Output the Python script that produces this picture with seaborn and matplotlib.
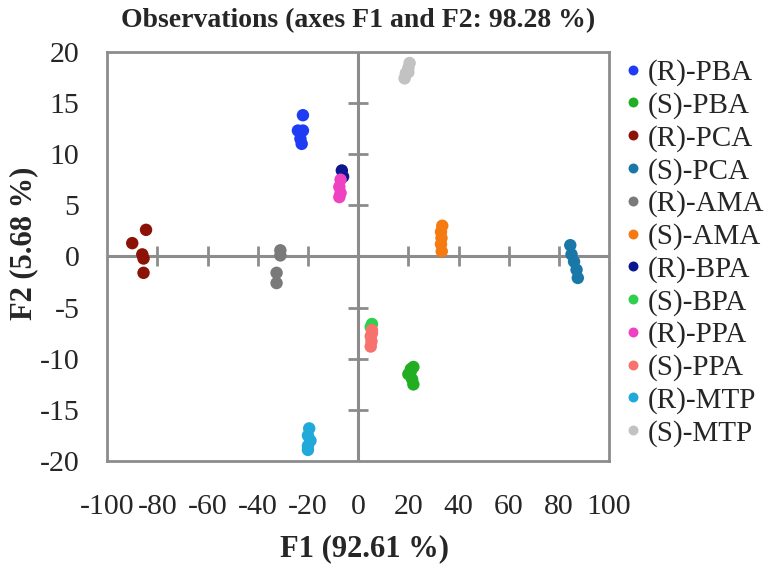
import pandas as pd
import matplotlib
matplotlib.use("Agg")
import matplotlib.pyplot as plt
import seaborn as sns

groups = ["(R)-PBA", "(S)-PBA", "(R)-PCA", "(S)-PCA", "(R)-AMA", "(S)-AMA",
          "(R)-BPA", "(S)-BPA", "(R)-PPA", "(S)-PPA", "(R)-MTP", "(S)-MTP"]
colors = ["#1f3cf5", "#22ae22", "#8c1208", "#1a78a8", "#7a7a7a", "#f57a12",
          "#0c168e", "#2fd04c", "#ef42c2", "#f7716d", "#20a9d9", "#c2c2c2"]

f1_values = [
    [-22.0, -24.0, -22.0, -23.0, -22.5],
    [21.0, 20.0, 21.5, 22.0, 21.0, 22.0],
    [-84.5, -90.0, -86.0, -85.5, -85.5],
    [84.5, 85.0, 86.0, 87.0, 87.5],
    [-31.0, -31.0, -32.5, -32.5],
    [33.5, 33.0, 33.2, 33.0, 33.3],
    [-6.5, -6.0],
    [5.5, 5.0],
    [-7.0, -7.5, -7.0, -7.5],
    [5.5, 5.0, 5.3, 5.0, 5.5],
    [-19.5, -20.0, -19.0, -20.0, -20.0],
    [20.5, 20.0, 19.0, 18.5, 20.0],
]
f2_values = [
    [13.8, 12.3, 12.3, 11.5, 11.0],
    [-11.0, -11.5, -12.0, -12.5, -11.2, -10.8],
    [2.6, 1.3, 0.2, -0.2, -1.6],
    [1.1, 0.2, -0.5, -1.3, -2.1],
    [0.6, 0.1, -1.6, -2.6],
    [3.0, 2.4, 1.8, 1.2, 0.5],
    [8.4, 7.8],
    [-6.6, -6.9],
    [7.5, 6.8, 6.2, 5.8],
    [-7.2, -7.8, -8.3, -8.8, -7.5],
    [-16.8, -17.5, -18.0, -18.5, -18.9],
    [18.9, 18.4, 17.9, 17.4, 18.0],
]

x_ticks = [-100, -80, -60, -40, -20, 0, 20, 40, 60, 80, 100]
y_ticks = [-20, -15, -10, -5, 0, 5, 10, 15, 20]

rows = []
for g, xs, ys in zip(groups, f1_values, f2_values):
    for x, y in zip(xs, ys):
        rows.append({"group": g, "F1": x, "F2": y})
df = pd.DataFrame(rows)

sns.set_style("white")
plt.rcParams["font.family"] = ["Liberation Serif", "DejaVu Serif"]
plt.rcParams["axes.unicode_minus"] = False

gray = "#8c8c8c"
fig = plt.figure(figsize=(7.82, 5.75), dpi=100)
ax = fig.add_axes([0.137, 0.198, 0.642, 0.712])

# axes through the origin with crossing tick marks
ax.axhline(0, color=gray, lw=2.2, zorder=1)
ax.axvline(0, color=gray, lw=2.2, zorder=1)
inner_x = [t for t in x_ticks if abs(t) not in (0, 100)]
inner_y = [t for t in y_ticks if abs(t) not in (0, 20)]
ax.plot(inner_x, [0] * len(inner_x), ls="", marker="|", ms=14, mew=2, color=gray, zorder=1)
ax.plot([0] * len(inner_y), inner_y, ls="", marker="_", ms=14, mew=2, color=gray, zorder=1)

sns.scatterplot(data=df, x="F1", y="F2", hue="group", hue_order=groups,
                palette=colors, s=80, linewidth=0, ax=ax, zorder=3)

ax.set_xlim(-100, 100)
ax.set_ylim(-20, 20)
ax.set_xticks(x_ticks)
ax.set_yticks(y_ticks)
ax.tick_params(axis="both", length=0, labelsize=21.5)
ax.tick_params(axis="x", pad=24)
ax.tick_params(axis="y", pad=20)
for s in ax.spines.values():
    s.set_color(gray)
    s.set_linewidth(2)

ax.set_title("Observations (axes F1 and F2: 98.28 %)", fontsize=20, fontweight="bold", pad=18)
ax.set_xlabel("F1 (92.61 %)", fontsize=22, fontweight="bold")
ax.set_ylabel("F2 (5.68 %)", fontsize=22, fontweight="bold")
ax.xaxis.set_label_coords(0.512, -0.178)
ax.yaxis.set_label_coords(-0.137, 0.533)

handles, labels = ax.get_legend_handles_labels()
ax.legend(handles, labels, loc="upper left", bbox_to_anchor=(0.995, 1.01),
          frameon=False, fontsize=21, labelspacing=0.2, handletextpad=0.0,
          handlelength=1.0, borderaxespad=0, markerscale=0.8)

fig.savefig("out.png", dpi=100)
